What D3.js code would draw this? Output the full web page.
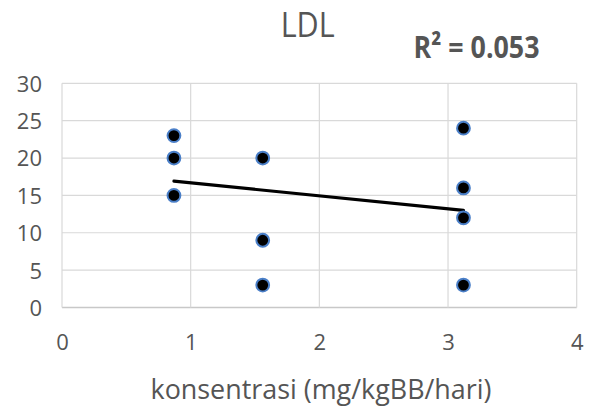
<!DOCTYPE html>
<html>
<head>
<meta charset="utf-8">
<script src="https://cdn.jsdelivr.net/npm/d3@7"></script>
<style>
  html, body { margin: 0; padding: 0; background: #fff; }
  svg { display: block; }
  text { font-family: "Open Sans", sans-serif; fill: #555555; }
</style>
</head>
<body>
<svg id="chart" width="591" height="407"></svg>
<script>
// ---- data ----
const xValues = [0.87, 0.87, 0.87, 1.56, 1.56, 1.56, 3.12, 3.12, 3.12, 3.12];
const yValues = [23, 20, 15, 20, 9, 3, 24, 16, 12, 3];
const trendX = [0.87, 3.12];
const trendY = [16.9, 13.0];
const xTicks = [0, 1, 2, 3, 4];
const yTicks = [0, 5, 10, 15, 20, 25, 30];
const titleText = "LDL";
const r2Text = "R² = 0.053";
const xAxisTitle = "konsentrasi (mg/kgBB/hari)";

// ---- layout ----
const svg = d3.select("#chart");
const plotLeft = 62, plotRight = 576.7, plotTop = 83.3, plotBottom = 307.5;

const x = d3.scaleLinear().domain([0, 4]).range([plotLeft, plotRight]);
const y = d3.scaleLinear().domain([0, 30]).range([plotBottom, plotTop]);

// gridlines
const grid = svg.append("g");
grid.selectAll("line.h").data(yTicks).enter().append("line")
  .attr("x1", plotLeft).attr("x2", plotRight)
  .attr("y1", d => y(d)).attr("y2", d => y(d))
  .attr("stroke", d => d === 0 ? "#c8c8c8" : "#d9d9d9").attr("stroke-width", d => d === 0 ? 1.5 : 1.2);
grid.selectAll("line.v").data(xTicks).enter().append("line")
  .attr("y1", plotTop).attr("y2", plotBottom)
  .attr("x1", d => x(d)).attr("x2", d => x(d))
  .attr("stroke", "#d9d9d9").attr("stroke-width", 1.2);

// axes labels via d3 axes
const yAxis = d3.axisLeft(y).tickValues(yTicks).tickFormat(d3.format("d")).tickSize(0).tickPadding(0);
const gy = svg.append("g").attr("transform", `translate(${plotLeft - 20},0)`).call(yAxis);
gy.select(".domain").remove();
gy.selectAll("text").style("font-size", "22px").attr("fill", "#555555")
  .attr("dy", "0.36em");

const xAxis = d3.axisBottom(x).tickValues(xTicks).tickFormat(d3.format("d")).tickSize(0).tickPadding(0);
const gx = svg.append("g").attr("transform", `translate(0,${plotBottom + 26.5})`).call(xAxis);
gx.select(".domain").remove();
gx.selectAll("text").style("font-size", "22px").attr("fill", "#555555").attr("dy", "0.72em");

// trendline
svg.append("line")
  .attr("x1", x(trendX[0])).attr("y1", y(trendY[0]))
  .attr("x2", x(trendX[1])).attr("y2", y(trendY[1]))
  .attr("stroke", "#000").attr("stroke-width", 3.2).attr("stroke-linecap", "round");

// points
const pts = d3.zip(xValues, yValues);
svg.append("g").selectAll("circle").data(pts).enter().append("circle")
  .attr("cx", d => x(d[0])).attr("cy", d => y(d[1]))
  .attr("r", 6.4)
  .attr("fill", "#000")
  .attr("stroke", "#4a7fc8").attr("stroke-width", 2);

// titles
svg.append("text").text(titleText)
  .attr("x", 307.7).attr("y", 36.5).attr("text-anchor", "middle")
  .style("font-size", "34px")
  .attr("textLength", 54).attr("lengthAdjust", "spacingAndGlyphs");

svg.append("text").text(r2Text)
  .attr("x", 476.5).attr("y", 57.7).attr("text-anchor", "middle")
  .style("font-size", "31px").style("font-weight", "bold")
  .attr("textLength", 126).attr("lengthAdjust", "spacingAndGlyphs");

svg.append("text").text(xAxisTitle)
  .attr("x", 321).attr("y", 398.5).attr("text-anchor", "middle")
  .style("font-size", "28px")
  .attr("textLength", 341).attr("lengthAdjust", "spacingAndGlyphs");
</script>
</body>
</html>
